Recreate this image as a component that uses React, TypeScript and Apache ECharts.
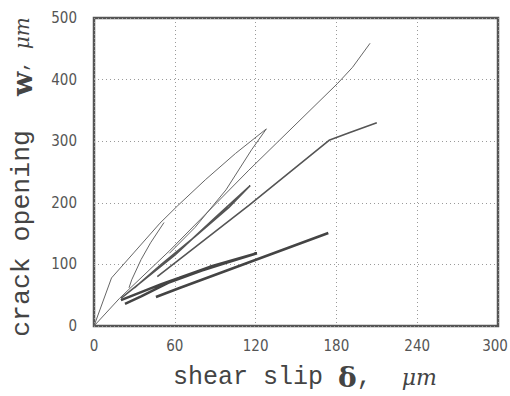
import React, { useEffect, useRef } from "react";
import * as echarts from "echarts";

// Tick values
const xTicks = [0, 60, 120, 180, 240, 300];
const yTicks = [0, 100, 200, 300, 400, 500];

// Curves: [shear slip (µm), crack opening (µm)]
const outerLoop: number[][] = [
  [0, 0], [13, 78], [30, 120], [49, 167], [62, 195], [83, 238], [105, 280], [128, 320],
  [117, 286], [98, 221], [75, 160], [56, 118],
];
const innerLoop: number[][] = [
  [52, 168], [42, 135], [35, 108], [28, 75], [26, 62],
];
const longThin: number[][] = [
  [0, 0], [19, 45], [56, 122], [115, 253], [181, 394], [192, 420], [205, 459],
];
const mediumLong: number[][] = [
  [47, 80], [115, 196], [175, 302], [190, 314], [210, 330],
];
const mediumLoop: number[][] = [
  [20, 45], [60, 115], [91, 178], [116, 228], [100, 192], [75, 145], [50, 100], [30, 62],
];
const thickLoop: number[][] = [
  [20, 42], [35, 55], [50, 68], [63, 78], [86, 96], [121, 118], [100, 104], [80, 90],
  [55, 70], [35, 48], [23, 36],
];
const thickLong: number[][] = [
  [46, 47], [64, 62], [174, 151],
];

export default function App() {
  const ref = useRef<HTMLDivElement>(null);
  useEffect(() => {
    if (!ref.current) return;
    const chart = echarts.init(ref.current, undefined, { renderer: "svg" });
    const line = (data: number[][], width: number, color: string) => ({
      type: "line",
      data,
      showSymbol: false,
      symbol: "none",
      lineStyle: { width, color },
      z: 3,
    });
    const tickFont = "Liberation Sans Narrow, DejaVu Sans Condensed, sans-serif";
    const xMax = xTicks[xTicks.length - 1];
    chart.setOption({
      animation: false,
      backgroundColor: "#ffffff",
      grid: {
        left: 94,
        right: 12,
        top: 18,
        bottom: 70,
        show: true,
        borderColor: "#555",
        borderWidth: 2.5,
        backgroundColor: "transparent",
        containLabel: false,
        outerBoundsMode: "none",
      },
      xAxis: {
        type: "value",
        min: xTicks[0],
        max: xMax,
        interval: 60,
        axisLine: { show: false },
        axisTick: { show: false },
        splitLine: { show: true, lineStyle: { color: "#9a9a9a", width: 1, type: [1, 3] } },
        axisLabel: {
          margin: 12,
          color: "#555",
          fontFamily: tickFont,
          fontSize: 15,
          formatter: (v: number) => (v === xMax ? `{r|${v}}` : `${v}`),
          rich: {
            r: { fontFamily: tickFont, fontSize: 15, color: "#555", padding: [0, 6, 0, 0] },
          },
        },
        name: "{s| }{a|shear slip }{b|δ}{a|,  }{c|μm}",
        nameLocation: "middle",
        nameGap: 37,
        nameTextStyle: {
          rich: {
            s: { width: 18, fontSize: 10 },
            a: { fontFamily: "Liberation Mono, monospace", fontSize: 25, color: "#444" },
            b: { fontFamily: "DejaVu Serif, serif", fontSize: 28, fontWeight: "bold", color: "#444" },
            c: { fontFamily: "DejaVu Serif, serif", fontSize: 22, fontStyle: "italic", color: "#444" },
          },
        },
      },
      yAxis: {
        type: "value",
        min: yTicks[0],
        max: yTicks[yTicks.length - 1],
        interval: 100,
        axisLine: { show: false },
        axisTick: { show: false },
        splitLine: { show: true, lineStyle: { color: "#9a9a9a", width: 1, type: [1, 3] } },
        axisLabel: { margin: 17, color: "#555", fontFamily: tickFont, fontSize: 15 },
        name: "{a|crack opening}{b|w}{d|, }{c|μm}{s| }",
        nameLocation: "middle",
        nameGap: 58,
        nameTextStyle: {
          rich: {
            s: { width: 10, fontSize: 10 },
            a: { fontFamily: "Liberation Mono, monospace", fontSize: 26.5, color: "#444" },
            b: {
              fontFamily: "DejaVu Serif, serif",
              fontSize: 28,
              fontWeight: "bold",
              color: "#444",
              padding: [0, 0, 0, 34],
            },
            d: { fontFamily: "Liberation Mono, monospace", fontSize: 19, color: "#444" },
            c: { fontFamily: "DejaVu Serif, serif", fontSize: 20, fontStyle: "italic", color: "#444" },
          },
        },
      },
      series: [
        line(outerLoop, 1, "#666"),
        line(innerLoop, 1, "#666"),
        line(longThin, 1, "#666"),
        line(mediumLong, 1.6, "#555"),
        line(mediumLoop, 1.6, "#555"),
        line(thickLoop, 2.6, "#444"),
        line(thickLong, 2.6, "#444"),
      ],
    });
    return () => chart.dispose();
  }, []);
  return (
    <div
      ref={ref}
      style={{ position: "fixed", left: 0, top: 0, width: 510, height: 396, background: "#fff" }}
    />
  );
}
